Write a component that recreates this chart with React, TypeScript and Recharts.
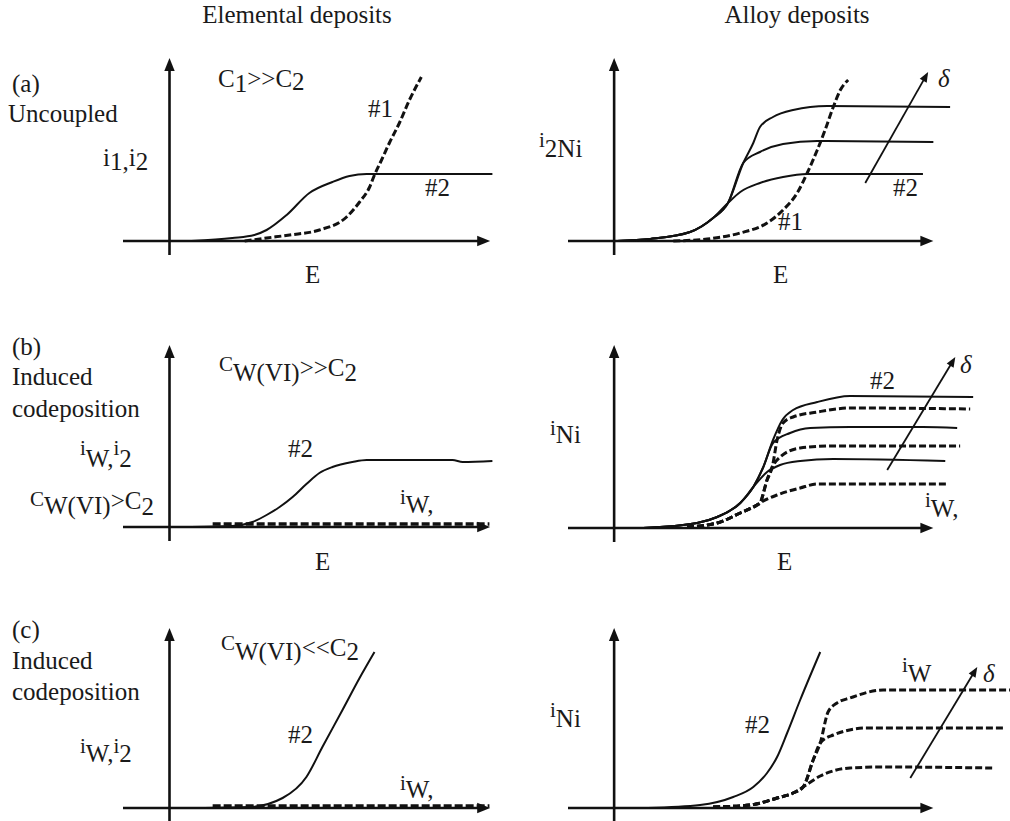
import React from "react";
import { LineChart, Line, XAxis, YAxis, ReferenceLine } from "recharts";

// (a) elemental: #2 solid plateau, #1 dashed exponential
const aElemE2 = [0.59, 1.69, 2.28, 2.61, 3.15, 3.76, 4.38, 4.84, 5.3, 8.68];
const aElemI2 = [0, 0.15, 0.3, 0.55, 1.3, 2.4, 2.95, 3.25, 3.35, 3.35];
const aElemE1 = [2.02, 2.61, 3.23, 4.03, 4.76, 5.11, 5.38, 5.51, 5.7, 5.91, 6.18, 6.45, 6.77];
const aElemI1 = [0, 0.15, 0.3, 0.55, 1.2, 1.95, 2.7, 3.3, 4.05, 4.9, 5.9, 7.05, 8.2];

// (a) alloy
const aAlloyLowE = [0.08, 0.97, 2.04, 2.66, 3.06, 3.39, 3.92, 4.54, 5.19, 8.3];
const aAlloyLowI = [0, 0.1, 0.45, 1.15, 1.9, 2.45, 2.9, 3.2, 3.35, 3.35];
const aAlloyMidE = [0.08, 0.97, 2.04, 2.66, 3.06, 3.47, 3.92, 4.54, 5.46, 8.58];
const aAlloyMidI = [0, 0.1, 0.45, 1.15, 1.9, 3.9, 4.45, 4.85, 5.0, 4.95];
const aAlloyTopE = [0.08, 0.97, 2.04, 2.66, 3.06, 3.47, 3.74, 3.92, 4.27, 4.81, 5.73, 9.03];
const aAlloyTopI = [0, 0.1, 0.45, 1.15, 1.9, 3.9, 4.9, 5.7, 6.2, 6.55, 6.75, 6.7];
const aAlloyDashE = [1.59, 2.5, 3.39, 4.11, 4.54, 4.92, 5.19, 5.46, 5.67, 5.89, 6.08, 6.29];
const aAlloyDashI = [0, 0.1, 0.4, 0.9, 1.55, 2.4, 3.4, 4.55, 5.55, 6.7, 7.55, 8.05];
const aDeltaE = [6.75, 8.44];
const aDeltaI = [2.9, 8.45];

// (b) elemental
const bElemE2 = [0.59, 1.69, 2.23, 2.61, 2.96, 3.31, 3.68, 4.03, 4.38, 4.92, 5.3, 7.61, 7.88, 8.68];
const bElemI2 = [0, 0.05, 0.25, 0.6, 1.0, 1.5, 2.15, 2.7, 3.0, 3.25, 3.35, 3.35, 3.25, 3.3];
const bElemWE = [1.16, 8.6];
const bElemWI = [0.15, 0.15];

// (b) alloy
const bSolidTopE = [0.78, 2.23, 2.77, 3.39, 3.74, 4.01, 4.27, 4.52, 4.81, 5.46, 6.34, 9.65];
const bSolidTopI = [0, 0.25, 0.55, 1.25, 2.05, 3.05, 4.4, 5.4, 5.9, 6.3, 6.6, 6.55];
const bSolidMidE = [0.78, 2.23, 2.77, 3.39, 3.74, 4.01, 4.27, 4.73, 5.27, 6.34, 8.3, 9.22];
const bSolidMidI = [0, 0.25, 0.55, 1.25, 2.05, 3.05, 4.25, 4.75, 5.0, 5.05, 5.05, 5.0];
const bSolidLowE = [0.78, 2.23, 2.77, 3.39, 3.74, 4.11, 4.46, 5.0, 5.89, 8.9];
const bSolidLowI = [0, 0.25, 0.55, 1.25, 2.05, 2.8, 3.15, 3.35, 3.45, 3.35];
const bDashLowE = [1.96, 2.77, 3.39, 3.84, 3.92, 4.38, 5.0, 5.46, 8.98];
const bDashLowI = [0.05, 0.25, 0.75, 1.15, 1.25, 1.65, 2.0, 2.2, 2.2];
const bDashMidE = [1.96, 2.77, 3.39, 3.84, 3.92, 4.11, 4.25, 4.46, 5.0, 5.89, 9.3];
const bDashMidI = [0.05, 0.25, 0.75, 1.15, 1.25, 2.4, 3.05, 3.55, 4.0, 4.1, 4.1];
const bDashTopE = [1.96, 2.77, 3.39, 3.84, 3.92, 4.11, 4.25, 4.38, 4.54, 4.81, 5.46, 6.34, 9.57];
const bDashTopI = [0.05, 0.25, 0.75, 1.15, 1.25, 2.4, 3.05, 4.4, 5.25, 5.55, 5.8, 6.0, 5.95];
const bDeltaE = [7.34, 9.17];
const bDeltaI = [2.9, 8.55];

// (c) elemental
const cElemE2 = [0.94, 2.15, 3.04, 3.68, 4.11, 4.65, 5.11, 5.51];
const cElemI2 = [0, 0.05, 0.5, 1.55, 3.05, 4.9, 6.5, 7.8];
const cElemWE = [1.16, 8.6];
const cElemWI = [0.1, 0.1];

// (c) alloy
const cAlloy2E = [0.91, 2.31, 3.2, 3.74, 4.11, 4.38, 4.65, 5.0, 5.54];
const cAlloy2I = [0, 0.15, 0.55, 1.05, 1.75, 2.55, 3.75, 5.4, 7.8];
const cDashLowE = [2.66, 3.66, 4.38, 4.81, 5.08, 5.54, 6.34, 7.23, 10.19];
const cDashLowI = [0.05, 0.15, 0.5, 0.75, 1.05, 1.6, 2.0, 2.05, 2.0];
const cDashMidE = [2.66, 3.66, 4.38, 4.81, 5.08, 5.35, 5.54, 5.89, 6.8, 10.51];
const cDashMidI = [0.05, 0.15, 0.5, 0.75, 1.05, 2.4, 3.25, 3.65, 4.0, 4.0];
const cDashTopE = [2.66, 3.66, 4.38, 4.81, 5.08, 5.35, 5.54, 5.75, 5.99, 6.34, 7.23, 10.64];
const cDashTopI = [0.05, 0.15, 0.5, 0.75, 1.05, 2.4, 3.25, 4.8, 5.25, 5.5, 5.9, 5.9];
const cDeltaE = [7.96, 9.76];
const cDeltaI = [1.5, 7.05];

const INK = "#111";
const serif = "Liberation Serif, DejaVu Serif, serif";

const zip = (e: number[], i: number[]) => e.map((x, k) => ({ E: x, i: i[k] }));

type Series = { e: number[]; i: number[]; kind: "solid" | "dash" | "thick" };

const ArrowShape = (p: any) => {
  const { x1, y1, x2, y2, w, head } = p;
  const a = Math.atan2(y2 - y1, x2 - x1);
  const half = head * 0.4;
  const bx = x2 - head * Math.cos(a);
  const by = y2 - head * Math.sin(a);
  const pts = [
    [x2, y2],
    [bx - half * Math.sin(a), by + half * Math.cos(a)],
    [bx + half * Math.sin(a), by - half * Math.cos(a)],
  ]
    .map((q) => q.join(","))
    .join(" ");
  return (
    <g>
      <line x1={x1} y1={y1} x2={bx + Math.cos(a)} y2={by + Math.sin(a)} stroke={INK} strokeWidth={w} />
      <polygon points={pts} fill={INK} />
    </g>
  );
};

interface PanelProps {
  left: number;
  top: number;
  width: number;
  xDomain: [number, number];
  xEnd: number;
  yTop: number;
  series: Series[];
  delta?: [number[], number[]];
}

function Panel({ left, top, width, xDomain, xEnd, yTop, series, delta }: PanelProps) {
  return (
    <div style={{ position: "absolute", left, top }}>
      <LineChart width={width} height={201} margin={{ top: 0, right: 0, bottom: 0, left: 0 }}>
        <XAxis dataKey="E" type="number" domain={xDomain} hide />
        <YAxis type="number" domain={[-0.75, 9.3]} hide />
        <ReferenceLine
          segment={[{ x: xDomain[0], y: 0 }, { x: xEnd, y: 0 }]}
          ifOverflow="visible"
          shape={(p: any) => <ArrowShape {...p} w={2.6} head={13} />}
        />
        <ReferenceLine
          segment={[{ x: 0, y: -0.7 }, { x: 0, y: yTop }]}
          ifOverflow="visible"
          shape={(p: any) => <ArrowShape {...p} w={2.6} head={13} />}
        />
        {series.map((s, k) => (
          <Line
            key={k}
            data={zip(s.e, s.i)}
            dataKey="i"
            type="monotone"
            stroke={INK}
            strokeWidth={s.kind === "solid" ? 2 : s.kind === "dash" ? 3 : 3.6}
            strokeDasharray={s.kind === "solid" ? undefined : s.kind === "dash" ? "7 3" : "8 3"}
            dot={false}
            activeDot={false}
            isAnimationActive={false}
          />
        ))}
        {delta && (
          <ReferenceLine
            segment={[{ x: delta[0][0], y: delta[1][0] }, { x: delta[0][1], y: delta[1][1] }]}
            ifOverflow="visible"
            shape={(p: any) => <ArrowShape {...p} w={1.8} head={10} />}
          />
        )}
      </LineChart>
    </div>
  );
}

const LEFT_X: [number, number] = [-1.25, 8.75];
const RIGHT_X: [number, number] = [-1.24, 10.64];

export default function App() {
  return (
    <div style={{ position: "absolute", left: 0, top: 0, width: 1010, height: 821, overflow: "hidden", background: "#fff", fontFamily: serif }}>
      <Panel left={123} top={55} width={372} xDomain={LEFT_X} xEnd={8.62} yTop={9.15}
        series={[
          { e: aElemE2, i: aElemI2, kind: "solid" },
          { e: aElemE1, i: aElemI1, kind: "dash" },
        ]} />
      <Panel left={568} top={55} width={442} xDomain={RIGHT_X} xEnd={8.58} yTop={9.15}
        series={[
          { e: aAlloyLowE, i: aAlloyLowI, kind: "solid" },
          { e: aAlloyMidE, i: aAlloyMidI, kind: "solid" },
          { e: aAlloyTopE, i: aAlloyTopI, kind: "solid" },
          { e: aAlloyDashE, i: aAlloyDashI, kind: "dash" },
        ]}
        delta={[aDeltaE, aDeltaI]} />
      <Panel left={123} top={341} width={372} xDomain={LEFT_X} xEnd={8.62} yTop={9.1}
        series={[
          { e: bElemE2, i: bElemI2, kind: "solid" },
          { e: bElemWE, i: bElemWI, kind: "thick" },
        ]} />
      <Panel left={568} top={342} width={442} xDomain={RIGHT_X} xEnd={8.58} yTop={9.15}
        series={[
          { e: bSolidTopE, i: bSolidTopI, kind: "solid" },
          { e: bSolidMidE, i: bSolidMidI, kind: "solid" },
          { e: bSolidLowE, i: bSolidLowI, kind: "solid" },
          { e: bDashLowE, i: bDashLowI, kind: "dash" },
          { e: bDashMidE, i: bDashMidI, kind: "dash" },
          { e: bDashTopE, i: bDashTopI, kind: "dash" },
        ]}
        delta={[bDeltaE, bDeltaI]} />
      <Panel left={123} top={622} width={372} xDomain={LEFT_X} xEnd={8.62} yTop={9.0}
        series={[
          { e: cElemE2, i: cElemI2, kind: "solid" },
          { e: cElemWE, i: cElemWI, kind: "thick" },
        ]} />
      <Panel left={568} top={622} width={442} xDomain={RIGHT_X} xEnd={8.58} yTop={9.0}
        series={[
          { e: cAlloy2E, i: cAlloy2I, kind: "solid" },
          { e: cDashLowE, i: cDashLowI, kind: "dash" },
          { e: cDashMidE, i: cDashMidI, kind: "dash" },
          { e: cDashTopE, i: cDashTopI, kind: "dash" },
        ]}
        delta={[cDeltaE, cDeltaI]} />

      <svg width={1010} height={821}
        style={{ position: "absolute", left: 0, top: 0, pointerEvents: "none", fontFamily: serif, fontSize: 25 }}
        fill="#1a1a1a">
        <text x={297} y={23} textAnchor="middle">Elemental deposits</text>
        <text x={797} y={23} textAnchor="middle">Alloy deposits</text>

        {/* row a */}
        <text x={12} y={92}>(a)</text>
        <text x={8} y={122}>Uncoupled</text>
        <text x={103} y={166}>i<tspan y={170}>1,</tspan><tspan y={166}>i</tspan><tspan y={170}>2</tspan></text>
        <text x={218} y={87}>C<tspan y={92}>1</tspan><tspan y={87}>&gt;&gt;C</tspan><tspan y={90}>2</tspan></text>
        <text x={368} y={117}>#1</text>
        <text x={425} y={196}>#2</text>
        <text x={305} y={283}>E</text>
        <text x={539} y={147} fontSize={21}>i<tspan y={157} fontSize={25}>2Ni</tspan></text>
        <text x={778} y={230}>#1</text>
        <text x={893} y={196}>#2</text>
        <text x={938} y={87} fontStyle="italic">δ</text>
        <text x={773} y={283}>E</text>

        {/* row b */}
        <text x={12} y={355}>(b)</text>
        <text x={12} y={385}>Induced</text>
        <text x={12} y={417}>codeposition</text>
        <text x={80} y={455} fontSize={21}>i<tspan y={467} fontSize={25}>W,</tspan><tspan y={455} fontSize={21}>i</tspan><tspan y={467} fontSize={25}>2</tspan></text>
        <text x={30} y={506} fontSize={21}>C<tspan y={514} fontSize={25}>W(VI)</tspan><tspan y={509} fontSize={25}>&gt;C</tspan><tspan y={515} fontSize={25}>2</tspan></text>
        <text x={219} y={371} fontSize={21}>C<tspan y={381} fontSize={25}>W(VI)</tspan><tspan y={376} fontSize={25}>&gt;&gt;C</tspan><tspan y={381} fontSize={25}>2</tspan></text>
        <text x={288} y={457}>#2</text>
        <text x={400} y={504} fontSize={21}>i<tspan y={513} fontSize={25}>W,</tspan></text>
        <text x={315} y={570}>E</text>
        <text x={550} y={435} fontSize={21}>i<tspan y={443} fontSize={25}>Ni</tspan></text>
        <text x={870} y={389}>#2</text>
        <text x={960} y={373} fontStyle="italic">δ</text>
        <text x={925} y={507} fontSize={21}>i<tspan y={517} fontSize={25}>W,</tspan></text>
        <text x={777} y={570}>E</text>

        {/* row c */}
        <text x={12} y={638}>(c)</text>
        <text x={12} y={669}>Induced</text>
        <text x={12} y={700}>codeposition</text>
        <text x={80} y={753} fontSize={21}>i<tspan y={762} fontSize={25}>W,</tspan><tspan y={753} fontSize={21}>i</tspan><tspan y={762} fontSize={25}>2</tspan></text>
        <text x={221} y={650} fontSize={21}>C<tspan y={660} fontSize={25}>W(VI)</tspan><tspan y={656} fontSize={25}>&lt;&lt;C</tspan><tspan y={660} fontSize={25}>2</tspan></text>
        <text x={288} y={743}>#2</text>
        <text x={400} y={790} fontSize={21}>i<tspan y={798} fontSize={25}>W,</tspan></text>
        <text x={550} y={717} fontSize={21}>i<tspan y={727} fontSize={25}>Ni</tspan></text>
        <text x={745} y={733}>#2</text>
        <text x={902} y={672} fontSize={21}>i<tspan y={682} fontSize={25}>W</tspan></text>
        <text x={983} y={682} fontStyle="italic">δ</text>
      </svg>
    </div>
  );
}
